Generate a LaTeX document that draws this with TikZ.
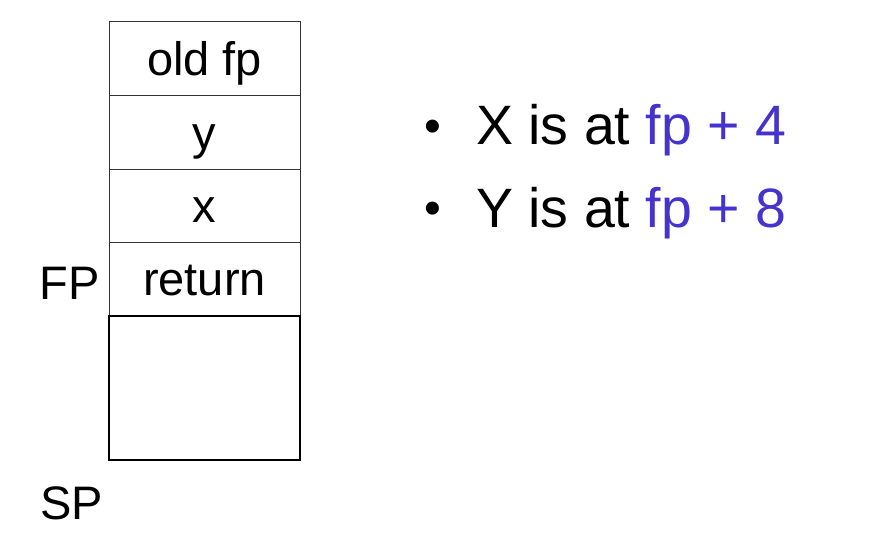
\documentclass[tikz,border=0pt]{standalone}
\usepackage{fontspec}
\setmainfont{Liberation Sans}

\definecolor{fpblue}{RGB}{68,51,204}

\tikzset{
	cell/.style={draw=black!80, line width=1pt, minimum width=191pt, inner sep=0pt,
		text height=42pt, text depth=9.4pt, font=\fontsize{47}{50}\selectfont},
	reg/.style={anchor=base east, inner sep=0pt, font=\fontsize{47}{50}\selectfont},
	note/.style={anchor=base west, inner sep=0pt, font=\fontsize{55.5}{60}\selectfont},
	dot/.style={anchor=base west, inner sep=0pt, font=\fontsize{48}{50}\selectfont},
}

\begin{document}
\begin{tikzpicture}[x=1pt,y=1pt]
				\useasboundingbox (0,0) rectangle (871,537);
				% the frame
				\node[cell, minimum height=74pt] (oldfp) at (204.5,478) {old fp};
				\node[cell, minimum height=74pt] (ycell) at (204.5,404) {y};
				\node[cell, minimum height=73pt] (xcell) at (204.5,330.5) {x};
				\node[cell, minimum height=73pt] (ret) at (204.5,257.5) {return};
				\node[draw=black, line width=2pt, minimum width=191pt, minimum height=144pt] (free) at (204.5,149) {};
				% registers
				\node[reg] (fp) at (100,237) {FP};
				\node[reg] (sp) at (103,17) {SP};
				% notes
				\node[dot] (b1) at (424,394) {•};
				\node[note] (n1) at (476,392) {X is at \textcolor{fpblue}{fp + 4}};
				\node[dot] (b2) at (424,312) {•};
				\node[note] (n2) at (476,309) {Y is at \textcolor{fpblue}{fp + 8}};
			\end{tikzpicture}
\end{document}
